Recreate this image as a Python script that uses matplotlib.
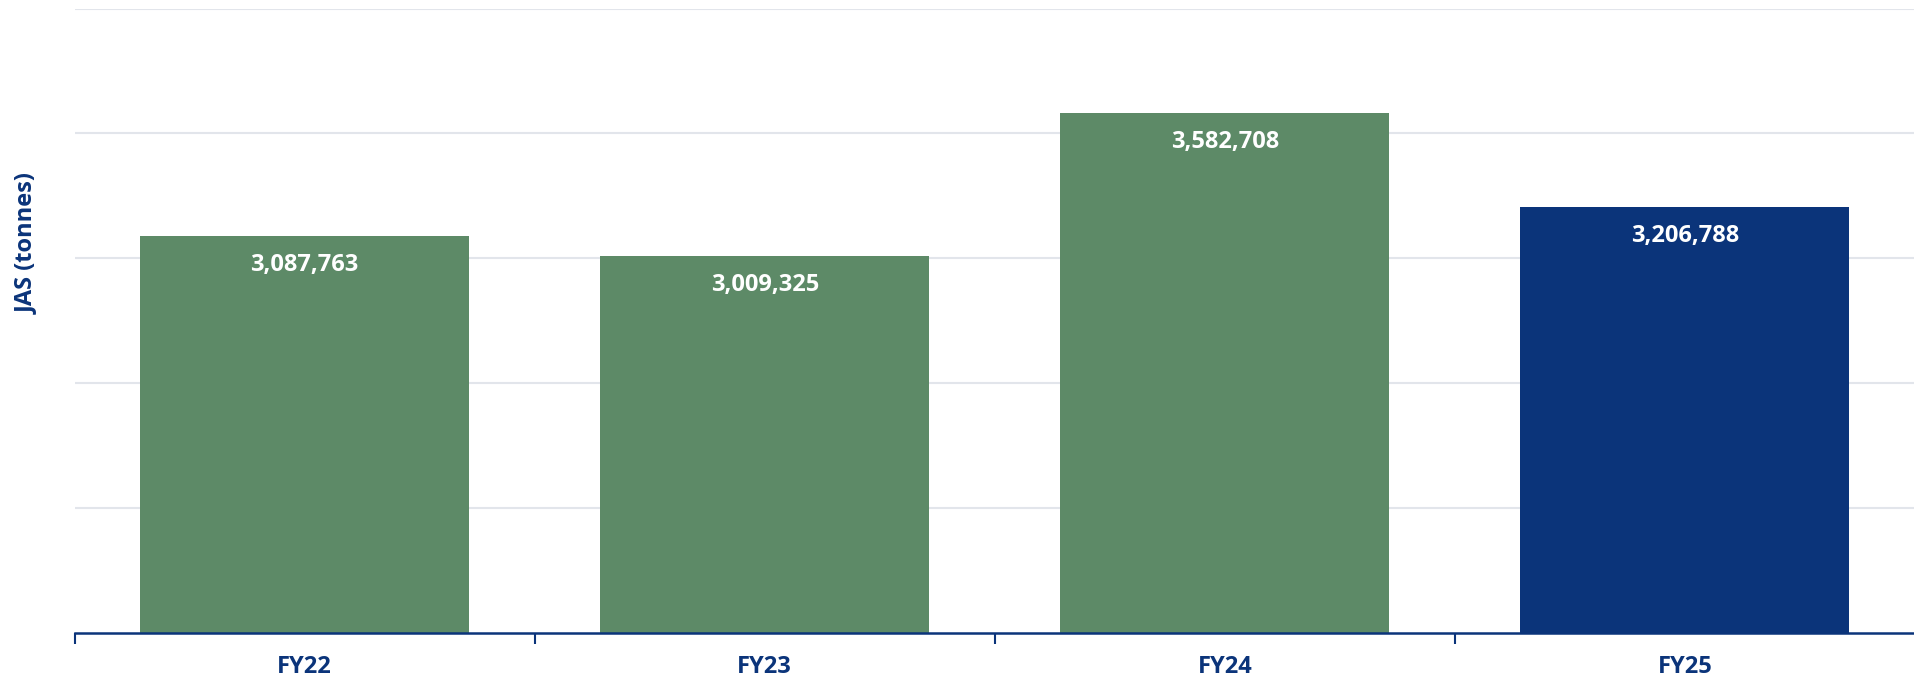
import matplotlib
matplotlib.use("Agg")
import matplotlib.pyplot as plt
import numpy as np

# data
categories = ["FY22", "FY23", "FY24", "FY25"]
values = [3087763, 3009325, 3582708, 3206788]
bar_colors = ["#5d8a67", "#5d8a67", "#5d8a67", "#0b347a"]
y_label = "JAS (tonnes)"

navy = "#0b347a"
plt.rcParams['font.family'] = ['Open Sans', 'DejaVu Sans']

fig = plt.figure(figsize=(19.15, 6.79), dpi=100)
ax = fig.add_axes([74.5 / 1915, 1 - 632.6 / 679, 1 - 74.5 / 1915, (632.6 - 8.5) / 679])

x = np.arange(len(categories))
bars = ax.bar(x, values, width=0.715, color=bar_colors, zorder=3)

ax.set_xlim(-0.5, len(categories) - 0.5)
ax.set_ylim(1500000, 4000000)
ax.set_yticks(np.arange(2000000, 4000001, 500000))
ax.yaxis.grid(True, color="#e2e5eb", linewidth=1.5, zorder=0)
ax.tick_params(axis="y", length=0, labelleft=False)

# category labels centred, tick marks at category boundaries
ax.set_xticks(x)
ax.set_xticklabels(categories, fontsize=17, fontweight="bold", color=navy)
ax.tick_params(axis="x", which="major", length=0, pad=16)
ax.set_xticks(np.arange(-0.5, len(categories) - 0.5, 1), minor=True)
ax.tick_params(axis="x", which="minor", length=8, width=1.5, color=navy)

for side in ["top", "right", "left"]:
    ax.spines[side].set_visible(False)
ax.spines["bottom"].set_color(navy)
ax.spines["bottom"].set_linewidth(1.8)
ax.spines["bottom"].set_zorder(4)

for rect, v in zip(bars, values):
    ax.annotate(f"{v:,}", (rect.get_x() + rect.get_width() / 2, v),
                xytext=(0, -21), textcoords="offset points",
                ha="center", va="center", color="white",
                fontsize=17, fontweight="bold", zorder=5)

fig.text(27 / 1915, 1 - 243 / 679, y_label, rotation=90, ha="center", va="center",
         fontsize=17, fontweight="bold", color=navy)

fig.savefig("out.png", dpi=100)
